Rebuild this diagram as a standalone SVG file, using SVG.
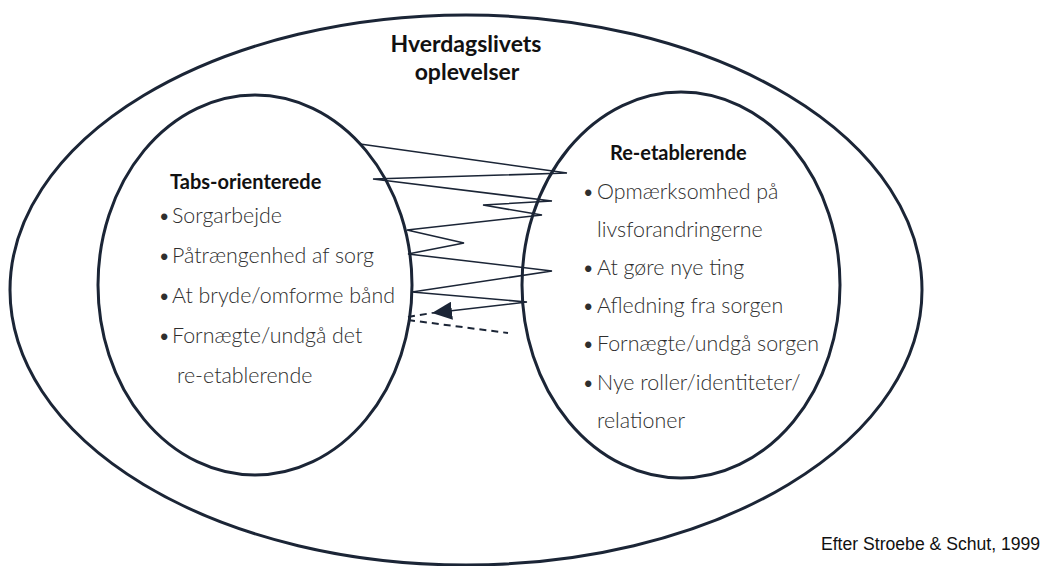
<svg xmlns="http://www.w3.org/2000/svg" width="1043" height="566" viewBox="0 0 1043 566">
<defs>
<style>
.ring{fill:none;stroke:#1b2536;stroke-width:3}
.zig{fill:none;stroke:#1b2536;stroke-width:1.6;stroke-linejoin:miter}
.dash{fill:none;stroke:#1b2536;stroke-width:2;stroke-dasharray:7 5}
.head{font-family:Lato,"Liberation Sans",sans-serif;font-weight:700;fill:#111}
.item{font-family:Lato,"Liberation Sans",sans-serif;font-weight:300;font-size:21.4px;fill:#2e2e2e}
.cite{font-family:"Liberation Sans",Arial,sans-serif;font-size:17.6px;fill:#111}
</style>
<marker id="arrBig" viewBox="0 0 20 18" refX="20" refY="9" markerWidth="20" markerHeight="18" markerUnits="userSpaceOnUse" orient="auto">
<path d="M0,0 L20,9 L0,18 z" fill="#1b2536"/>
</marker>
</defs>
<rect width="1043" height="566" fill="#fff"/>
<g id="outer">
<ellipse class="ring" cx="466" cy="290" rx="456" ry="275"/>
<text class="head" font-size="23" text-anchor="middle" x="466" y="52">Hverdagslivets</text>
<text class="head" font-size="23" text-anchor="middle" x="467" y="80">oplevelser</text>
</g>
<g id="tabs">
<ellipse class="ring" cx="255" cy="285" rx="157" ry="190"/>
<text class="head" font-size="20" x="170" y="189">Tabs-orienterede</text>
<text class="item"><tspan x="158" y="223">•</tspan><tspan x="172" y="223">Sorgarbejde</tspan></text>
<text class="item"><tspan x="158" y="263">•</tspan><tspan x="172" y="263">Påtrængenhed af sorg</tspan></text>
<text class="item"><tspan x="158" y="303">•</tspan><tspan x="172" y="303">At bryde/omforme bånd</tspan></text>
<text class="item"><tspan x="158" y="343">•</tspan><tspan x="172" y="343">Fornægte/undgå det</tspan></text>
<text class="item" x="177" y="383">re-etablerende</text>
</g>
<g id="reetab">
<ellipse class="ring" cx="681" cy="285" rx="159" ry="193"/>
<text class="head" font-size="20" x="610" y="160">Re-etablerende</text>
<text class="item"><tspan x="582" y="199">•</tspan><tspan x="597" y="199">Opmærksomhed på</tspan></text>
<text class="item" x="597" y="237">livsforandringerne</text>
<text class="item"><tspan x="582" y="275">•</tspan><tspan x="597" y="275">At gøre nye ting</tspan></text>
<text class="item"><tspan x="582" y="313">•</tspan><tspan x="597" y="313">Afledning fra sorgen</tspan></text>
<text class="item"><tspan x="582" y="351">•</tspan><tspan x="597" y="351">Fornægte/undgå sorgen</tspan></text>
<text class="item"><tspan x="582" y="390">•</tspan><tspan x="597" y="390">Nye roller/identiteter/</tspan></text>
<text class="item" x="597" y="428">relationer</text>
</g>
<g id="connectors">
<polyline class="zig" marker-end="url(#arrBig)" points="360,144 567,173 373,179 552,201 483,205 542,215 407,230 464,243 408,254 552,271 412,292 527,302 432,313"/>
<line class="dash" x1="408" y1="317" x2="432" y2="313"/>
<line class="dash" x1="408" y1="320" x2="508" y2="333"/>
</g>
<text class="cite" x="821" y="550">Efter Stroebe &amp; Schut, 1999</text>
</svg>
